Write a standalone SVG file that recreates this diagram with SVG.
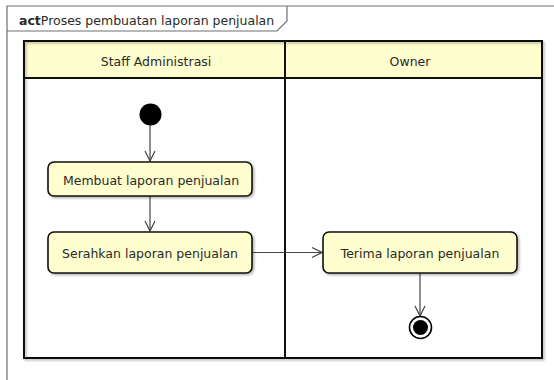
<svg xmlns="http://www.w3.org/2000/svg" width="554" height="380" viewBox="0 0 554 380">
  <defs>
    <marker id="open-arrow" viewBox="0 0 12 12" refX="11" refY="6" markerWidth="12" markerHeight="12" markerUnits="userSpaceOnUse" orient="auto">
      <path d="M1,1 L11,6 L1,11" fill="none" stroke="#444" stroke-width="1.2"/>
    </marker>
    <filter id="shadow" x="-10%" y="-10%" width="130%" height="140%">
      <feDropShadow dx="1.5" dy="1.5" stdDeviation="1" flood-color="#000" flood-opacity="0.3"/>
    </filter>
  </defs>
  <style>
    text { font-family: "DejaVu Sans", "Liberation Sans", sans-serif; font-size: 12.5px; fill: #2a2a2a; }
    .frame { fill: none; stroke: #707070; stroke-width: 1.2; }
    .lane { fill: none; stroke: #111; stroke-width: 2; }
    .lane-head { fill: #FEFECE; }
    .action rect { fill: #FEFECE; stroke: #111; stroke-width: 1.6; filter: url(#shadow); }
    .flow { fill: none; stroke: #444; stroke-width: 1.2; marker-end: url(#open-arrow); }
  </style>

  <rect width="554" height="380" fill="#ffffff"/>

  <!-- diagram frame with title tab -->
  <g id="frame">
    <path class="frame" d="M7,380 L7,6 L554,6"/>
    <path class="frame" d="M7,31 L277,31 L287,21 L287,6"/>
    <text x="19" y="24.5"><tspan font-weight="bold">act</tspan>Proses pembuatan laporan penjualan</text>
  </g>

  <!-- swimlanes -->
  <g id="swimlanes">
    <rect class="lane-head" x="24" y="41" width="518" height="37"/>
    <rect class="lane" x="24" y="41" width="518" height="317" filter="url(#shadow)"/>
    <line class="lane" x1="24" y1="78" x2="542" y2="78"/>
    <line class="lane" x1="285" y1="41" x2="285" y2="358"/>
    <text x="156" y="65.5" text-anchor="middle">Staff Administrasi</text>
    <text x="410" y="65.5" text-anchor="middle">Owner</text>
  </g>

  <!-- connectors -->
  <g id="connectors">
    <line class="flow" x1="150" y1="125" x2="150" y2="161"/>
    <line class="flow" x1="150" y1="196" x2="150" y2="231"/>
    <line class="flow" x1="252" y1="252.5" x2="322" y2="252.5"/>
    <line class="flow" x1="420" y1="273" x2="420" y2="316"/>
  </g>

  <g id="start">
    <circle cx="150.5" cy="114.5" r="11" fill="#000"/>
  </g>

  <g id="membuat-laporan" class="action">
    <rect x="48" y="162" width="204" height="34" rx="6" ry="6"/>
    <text x="151" y="184.5" text-anchor="middle">Membuat laporan penjualan</text>
  </g>

  <g id="serahkan-laporan" class="action">
    <rect x="48" y="232" width="204" height="41" rx="6" ry="6"/>
    <text x="150" y="257.5" text-anchor="middle">Serahkan laporan penjualan</text>
  </g>

  <g id="terima-laporan" class="action">
    <rect x="323" y="232" width="194" height="41" rx="6" ry="6"/>
    <text x="420" y="257.5" text-anchor="middle">Terima laporan penjualan</text>
  </g>

  <g id="end">
    <circle cx="420.5" cy="327.5" r="11" fill="#fff" stroke="#000" stroke-width="1.6"/>
    <circle cx="420.5" cy="327.5" r="7.5" fill="#000"/>
  </g>
</svg>
